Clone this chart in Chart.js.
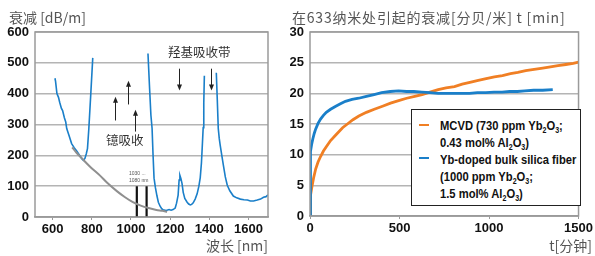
<!DOCTYPE html>
<html>
<head>
<meta charset="utf-8">
<script src="https://cdn.jsdelivr.net/npm/chart.js@4"></script>
<style>
  body { margin: 0; background: #fff; width: 595px; height: 256px; position: relative; overflow: hidden; }
  canvas { position: absolute; top: 0; }
  .t { position: absolute; font-family: "Noto Sans CJK SC", "Noto Sans", sans-serif; font-size: 14px; color: #555; white-space: nowrap; line-height: 1; }
  .note { color: #333; font-size: 12.5px; }
  .tiny { position: absolute; font-family: "Liberation Sans", sans-serif; font-size: 5px; color: #555; line-height: 7px; }
  #legend { position: absolute; left: 411px; top: 109px; width: 168px; height: 95px; border: 1.5px solid #222; background: #fff;
    font-family: "Liberation Sans", sans-serif; font-weight: bold; font-size: 13.5px; color: #111; }
  #legend .row { position: absolute; left: 28px; white-space: nowrap; transform: scaleX(0.83); transform-origin: left center; }
  #legend .sw { position: absolute; left: 7px; width: 10px; height: 2px; }
  sub { font-size: 8.5px; vertical-align: -3px; line-height: 0; }
</style>
</head>
<body>
<canvas id="left" width="290" height="256" style="left:0"></canvas>
<canvas id="right" width="305" height="256" style="left:290px"></canvas>

<div class="t" style="left:9px; top:10px;">衰减 [dB/m]</div>
<div class="t" style="left:292px; top:10px; letter-spacing:0.8px;">在633纳米处引起的衰减[分贝/米] t [min]</div>
<div class="t" style="right:327px; top:238px;">波长 [nm]</div>
<div class="t" style="right:3px; top:238px;">t[分钟]</div>
<div class="t note" style="left:168px; top:46px;">羟基吸收带</div>
<div class="t note" style="left:106px; top:134px;">镱吸收</div>
<div class="tiny" style="left:129px; top:170px;">1030 ...<br>1080 nm</div>

<div id="legend">
  <div class="sw" style="top:14px; background:#f07f24"></div>
  <div class="row" style="top:8px">MCVD (730 ppm Yb<sub>2</sub>O<sub>3</sub>;</div>
  <div class="row" style="top:24.5px">0.43 mol% Al<sub>2</sub>O<sub>3</sub>)</div>
  <div class="sw" style="top:47px; background:#1a7fc9"></div>
  <div class="row" style="top:41.5px">Yb-doped bulk silica fiber</div>
  <div class="row" style="top:58.5px">(1000 ppm Yb<sub>2</sub>O<sub>3</sub>;</div>
  <div class="row" style="top:76px">1.5 mol% Al<sub>2</sub>O<sub>3</sub>)</div>
</div>

<script>
// left panel: attenuation spectrum, gaps (null) where the curve leaves the scale
const wavelength = [612, 615, 622, 630, 636, 645, 651, 660, 667, 672, 685, 697, 710, 723, 738, 750, 757, 765, 772, 778, 785, 795, 805,
  805,
  1087, 1095, 1102, 1108, 1113, 1118, 1125, 1133, 1140, 1149, 1157, 1164, 1180, 1195, 1205, 1215, 1226, 1233, 1241, 1246, 1250, 1255,
  1261, 1267, 1275, 1287, 1295, 1303, 1310, 1318, 1328, 1338, 1347, 1354, 1360, 1364, 1369, 1372, 1375,
  1375,
  1436, 1441, 1446, 1451, 1456, 1464, 1472, 1482, 1492, 1505, 1523, 1540, 1559, 1577, 1595, 1610, 1626, 1645, 1662, 1677, 1690, 1700];
const attenuation = [450, 440, 400, 388, 372, 352, 345, 322, 308, 287, 262, 238, 225, 214, 200, 188, 184, 190, 205, 222, 287, 400, 516,
  null,
  530, 420, 330, 287, 200, 126, 95, 68, 48, 35, 27, 23, 21, 24, 22, 24, 29, 45, 71, 120, 135, 125,
  108, 80, 60, 48, 42, 39, 41, 46, 58, 75, 100, 128, 175, 225, 290, 370, 458,
  null,
  468, 380, 287, 255, 232, 200, 168, 130, 103, 85, 68, 62, 58, 56, 55, 52, 52, 55, 58, 64, 66, 72];

// grey background (scattering) curve
const bgWavelength = [700, 720, 750, 790, 841, 880, 928, 970, 1010, 1050, 1090, 1130, 1160, 1185];
const bgAttenuation = [226, 210, 190, 164, 135, 110, 84, 64, 48, 37, 29, 23, 20, 17];

// pump wavelengths 1030 / 1080 nm
const pumpLines = [1030, 1080];
const pumpHeight = 100;

// annotation arrows (nm, from dB/m, to dB/m)
const arrowNm = [921, 983, 1023, 1243, 1411];
const arrowFrom = [313, 365, 277, 481, 481];
const arrowTo = [390, 442, 348, 410, 410];

const leftXTicks = [600, 800, 1000, 1200, 1400, 1600];

// right panel: photodarkening vs time
const mcvdTime = [0, 2, 5, 11, 20, 32, 45, 59, 75, 91, 115, 144, 182, 209, 240, 273, 315, 359, 405, 450, 495, 540, 585, 626, 670, 716,
  760, 807, 850, 893, 940, 984, 1030, 1075, 1120, 1161, 1205, 1252, 1300, 1343, 1385, 1429, 1470, 1500];
const mcvdLoss = [0, 2.5, 3.5, 4.8, 6.2, 7.7, 8.8, 9.7, 10.6, 11.3, 12.3, 13.2, 14.4, 15.0, 15.7, 16.3, 16.9, 17.4, 17.9, 18.4, 18.8,
  19.2, 19.5, 19.8, 20.2, 20.6, 20.9, 21.1, 21.5, 21.8, 22.1, 22.4, 22.7, 22.9, 23.2, 23.4, 23.7, 23.9, 24.1, 24.3, 24.5, 24.7, 24.9, 25.1];
const bulkTime = [0, 1, 2, 5, 10, 16, 24, 32, 45, 59, 75, 91, 115, 144, 170, 198, 235, 272, 315, 358, 400, 448, 495, 539, 580, 625,
  670, 715, 760, 806, 850, 891, 935, 982, 1028, 1073, 1115, 1158, 1200, 1249, 1300, 1356];
const bulkLoss = [0, 5, 8.9, 10.5, 11.8, 12.6, 13.5, 14.2, 15.1, 15.8, 16.4, 16.9, 17.4, 17.9, 18.3, 18.7, 19.0, 19.2, 19.5, 19.8,
  20.1, 20.3, 20.4, 20.3, 20.3, 20.2, 20.1, 20.0, 20.0, 20.0, 20.0, 20.0, 20.1, 20.1, 20.2, 20.2, 20.3, 20.3, 20.4, 20.5, 20.5, 20.6];
const rightXTicks = [0, 500, 1000, 1500];

const BLUE = "#1a7fc9";
const ORANGE = "#f07f24";
const GRID = "#b4b4b4";
const tickFont = { family: "'Liberation Sans', sans-serif", size: 13, weight: "bold" };

function pts(xs, ys) {
  return xs.map((x, i) => ({ x: x, y: ys[i] }));
}

function pump_points() {
  let out = [];
  for (const nm of pumpLines) {
    if (out.length) out.push({ x: nm, y: null });
    out.push({ x: nm, y: 0 }, { x: nm, y: pumpHeight });
  }
  return out;
}

// grey frame round the plot area
const framePlugin = {
  id: "frame",
  afterDatasetsDraw(chart) {
    const a = chart.chartArea, c = chart.ctx;
    c.save();
    c.strokeStyle = "#9a9a9a";
    c.lineWidth = 1.5;
    c.strokeRect(a.left, a.top, a.right - a.left, a.bottom - a.top);
    c.restore();
  }
};

// small black arrows in data units
const arrowPlugin = {
  id: "arrows",
  afterDatasetsDraw(chart) {
    if (chart.canvas.id !== "left") return;
    const c = chart.ctx, xs = chart.scales.x, ys = chart.scales.y;
    c.save();
    c.strokeStyle = "#222";
    c.fillStyle = "#222";
    c.lineWidth = 1;
    arrowNm.forEach((nm, i) => {
      const x = Math.round(xs.getPixelForValue(nm)) + 0.5;
      const y0 = ys.getPixelForValue(arrowFrom[i]);
      const y1 = ys.getPixelForValue(arrowTo[i]);
      const dir = y1 < y0 ? 1 : -1;
      c.beginPath();
      c.moveTo(x, y0);
      c.lineTo(x, y1 + dir * 4);
      c.stroke();
      c.beginPath();
      c.moveTo(x, y1);
      c.lineTo(x - 2.5, y1 + dir * 6);
      c.lineTo(x + 2.5, y1 + dir * 6);
      c.closePath();
      c.fill();
    });
    c.restore();
  }
};

function axes(xmin, xmax, xticks, ymax, ystep, yWidth, xHeight) {
  return {
    x: {
      type: "linear", min: xmin, max: xmax,
      afterBuildTicks: (s) => { s.ticks = xticks.map((v) => ({ value: v })); },
      afterFit: (s) => { s.height = xHeight; },
      grid: { drawOnChartArea: false, drawTicks: true, tickLength: 3, color: "#9a9a9a" },
      border: { color: "#9a9a9a", width: 1.5 },
      ticks: { font: tickFont, color: "#111", padding: 2, maxRotation: 0, callback: (v) => String(v) }
    },
    y: {
      min: 0, max: ymax,
      afterFit: (s) => { s.width = yWidth; },
      grid: { color: GRID, lineWidth: 1.5, drawTicks: false },
      border: { display: false },
      ticks: { stepSize: ystep, font: tickFont, color: "#111", padding: 6, callback: (v) => String(v) }
    }
  };
}

Chart.defaults.animation = false;
Chart.defaults.plugins.legend.display = false;
Chart.defaults.plugins.tooltip.enabled = false;
Chart.defaults.elements.point.radius = 0;

new Chart(document.getElementById("left"), {
  type: "line",
  data: {
    datasets: [
      { data: pts(bgWavelength, bgAttenuation), borderColor: "#8f8f8f", borderWidth: 2, cubicInterpolationMode: "monotone" },
      { data: pts(wavelength, attenuation), borderColor: BLUE, borderWidth: 1.6, spanGaps: false },
      { data: pump_points(), borderColor: "#111", borderWidth: 2.2, spanGaps: false }
    ]
  },
  options: {
    responsive: false,
    layout: { padding: { left: 0, top: 32, right: 22, bottom: 0 } },
    scales: axes(510, 1700, leftXTicks, 600, 100, 35, 39)
  },
  plugins: [framePlugin, arrowPlugin]
});

new Chart(document.getElementById("right"), {
  type: "line",
  data: {
    datasets: [
      { label: "Yb-doped bulk silica fiber", data: pts(bulkTime, bulkLoss), borderColor: BLUE, borderWidth: 2.8 },
      { label: "MCVD", data: pts(mcvdTime, mcvdLoss), borderColor: ORANGE, borderWidth: 2.8 }
    ]
  },
  options: {
    responsive: false,
    layout: { padding: { left: 0, top: 32, right: 3, bottom: 0 } },
    scales: axes(0, 1500, rightXTicks, 30, 5, 20, 40)
  },
  plugins: [framePlugin]
});
</script>
</body>
</html>
